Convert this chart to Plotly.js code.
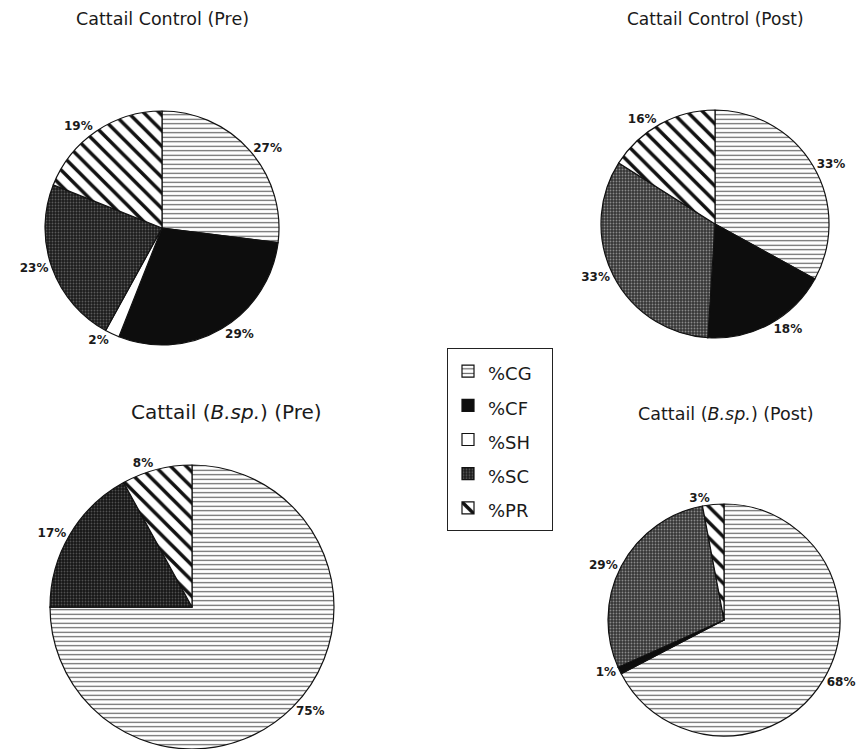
<!DOCTYPE html>
<html>
<head>
<meta charset="utf-8">
<script src="https://cdn.plot.ly/plotly-3.0.1.min.js"></script>
<style>
html,body{margin:0;padding:0;background:#fff;}
#chart{width:867px;height:749px;}
/* legend entries are spaced by the legend font size; draw the text itself smaller */
#chart .legendtext{font-size:18px !important;}
</style>
</head>
<body>
<div id="chart"></div>
<script>
// ---- data ----
const categories = ['%CG', '%CF', '%SH', '%SC', '%PR'];
const controlPre  = [27, 29, 2, 23, 19];
const controlPost = [33, 18, 0, 33, 16];
const bspPre      = [75, 0, 0, 17, 8];
const bspPost     = [68, 1, 0, 29, 3];
const pieTitles = [
  'Cattail Control (Pre)',
  'Cattail Control (Post)',
  'Cattail (<i>B.sp.</i>) (Pre)',
  'Cattail (<i>B.sp.</i>) (Post)'
];

// ---- layout helpers (positions in px) ----
const W = 867, H = 749;
const FONT = 'DejaVu Sans, Liberation Sans, Arial, sans-serif';
function dom(cx, cy, r) {
  return {x: [(cx - r) / W, (cx + r) / W], y: [1 - (cy + r) / H, 1 - (cy - r) / H]};
}
function mk(values, domain, scColor, scFg) {
  return {
    type: 'pie',
    labels: categories,
    values: values,
    text: values.map(v => v > 0 ? v + '%' : ''),
    textinfo: 'text',
    textposition: 'outside',
    sort: false,
    direction: 'clockwise',
    rotation: 0,
    domain: domain,
    hoverinfo: 'label+value',
    outsidetextfont: {family: FONT, size: 12, color: '#1a1a1a', weight: 'bold'},
    marker: {
      colors: ['#ffffff', '#0d0d0d', '#ffffff', scColor, '#ffffff'],
      line: {color: '#111', width: 1.2},
      pattern: {
        shape: ['-', '', '', '.', '\\'],
        fgcolor: ['#5a5a5a', '#0d0d0d', '#ffffff', scFg, '#111111'],
        bgcolor: ['#ffffff', '#0d0d0d', '#ffffff', scColor, '#ffffff'],
        size: [4.5, 8, 8, 3, 11],
        solidity: [0.25, 0.3, 0.3, 0.3, 0.32],
        fillmode: 'replace'
      }
    }
  };
}

const data = [
  mk(controlPre,  dom(162, 228, 117), '#1c1c1c', '#5a5a5a'),
  mk(controlPost, dom(715, 224, 114), '#363636', '#8a8a8a'),
  mk(bspPre,      dom(192, 610, 145), '#161616', '#505050'),
  mk(bspPost,     dom(724, 620, 116), '#363636', '#8a8a8a')
];

const titlePos = [[162, 19, 17.5], [715, 19, 17], [227, 412, 20], [726, 414, 17.5]];
const annotations = pieTitles.map((t, i) => ({
  text: t, xref: 'paper', yref: 'paper',
  x: titlePos[i][0] / W, y: 1 - titlePos[i][1] / H,
  xanchor: 'center', yanchor: 'middle', showarrow: false,
  font: {family: FONT, size: titlePos[i][2], color: '#1a1a1a'}
}));

const layout = {
  width: W, height: H,
  margin: {l: 0, r: 0, t: 0, b: 0},
  paper_bgcolor: '#ffffff',
  plot_bgcolor: '#ffffff',
  showlegend: true,
  legend: {
    x: 447 / W, y: 1 - 348 / H, xanchor: 'left', yanchor: 'top',
    bordercolor: '#222', borderwidth: 1, bgcolor: '#fff',
    font: {family: FONT, size: 24, color: '#1a1a1a'},
    traceorder: 'normal'
  },
  annotations: annotations
};

Plotly.newPlot('chart', data, layout, {displayModeBar: false, staticPlot: true});
</script>
</body>
</html>
